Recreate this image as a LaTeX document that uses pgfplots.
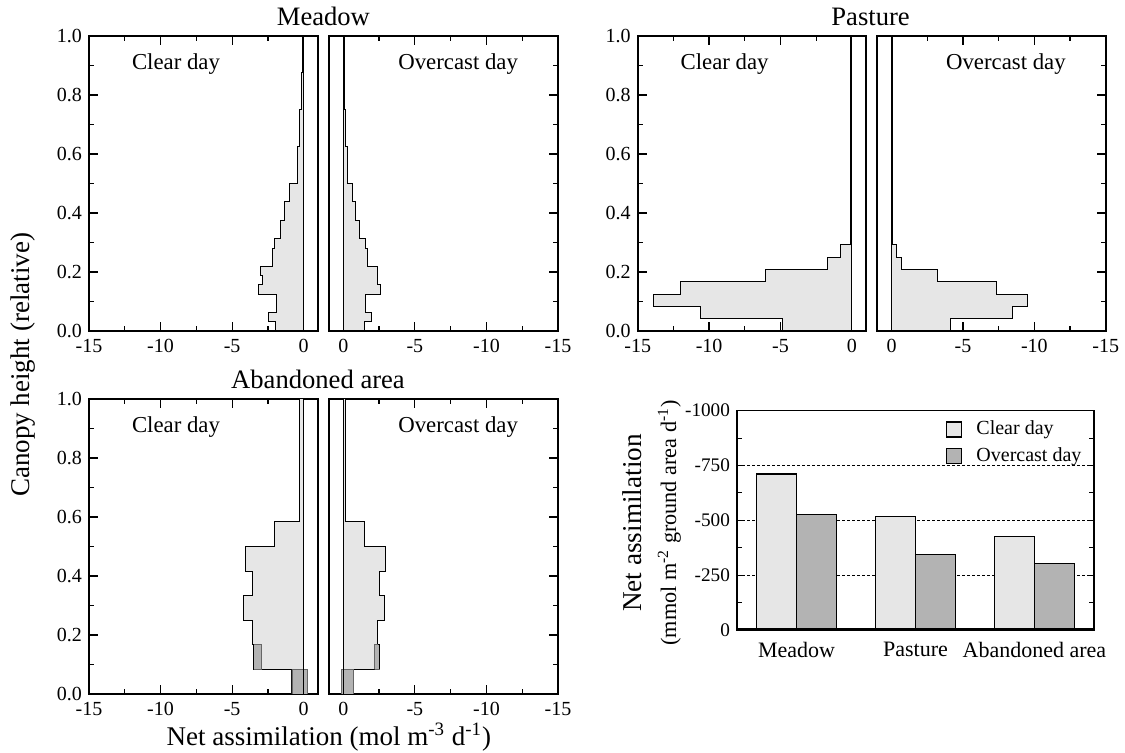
\documentclass[border=0pt]{standalone}
\usepackage{pgfplots}
\pgfplotsset{compat=1.18}
\usepackage{fontspec}
\setmainfont{Liberation Serif}
\definecolor{lightg}{HTML}{E6E6E6}
\definecolor{darkg}{HTML}{B3B3B3}
\tikzset{inlab/.style={font=\fontsize{11.4}{13}\selectfont}}
\pgfplotsset{
 prof/.style={scale only axis, width=114.5pt, height=147.5pt,
  xmin=-15, xmax=1, ymin=0, ymax=1,
  xtick={-15,-10,-5,0}, xticklabels={-15,-10,-5,0}, minor x tick num=1,
  ytick={0,0.2,0.4,0.6,0.8,1}, minor y tick num=1,
  xtick pos=both, xticklabel pos=lower,
  major tick length=4.5pt, minor tick length=2.5pt,
  axis line style={line width=1pt}, tick style={black, line width=0.6pt},
  tick label style={font=\fontsize{10}{12}\selectfont},
  xticklabel style={yshift=-0.8pt},
  anchor=south west},
 clear/.style={prof, ytick pos=left, yticklabel pos=left, yticklabels={0.0,0.2,0.4,0.6,0.8,1.0}},
 over/.style={prof, x dir=reverse, ytick pos=right, yticklabels={}},
 light/.style={fill=lightg, draw=black, line width=0.5pt},
 dark/.style={fill=darkg, draw=black!60, line width=0.4pt},
 zero/.style={black, line width=0.5pt},
}
\begin{document}
\begin{tikzpicture}
\useasboundingbox (0,0) rectangle (562.5pt,376.5pt);
% ---------------- Meadow clear
\begin{axis}[clear, at={(44.5pt,211pt)}]
\addplot[light] coordinates {(0,0) (-2.0,0) (-2.0,0.03125) (-2.44,0.03125) (-2.44,0.0625) (-1.88,0.0625) (-1.88,0.125)
 (-3.18,0.125) (-3.18,0.15625) (-2.86,0.15625) (-2.86,0.1875) (-3.02,0.1875) (-3.02,0.21875) (-2.2,0.21875) (-2.2,0.28125)
 (-2.07,0.28125) (-2.07,0.3125) (-1.62,0.3125) (-1.62,0.375) (-1.32,0.375) (-1.32,0.4375) (-0.96,0.4375) (-0.96,0.5)
 (-0.46,0.5) (-0.46,0.625) (-0.27,0.625) (-0.27,0.75) (-0.16,0.75) (-0.16,0.875) (-0.09,0.875) (-0.09,1) (0,1)};
\addplot[zero] coordinates {(0,0) (0,1)};
\node[inlab, anchor=base west] at (axis description cs:0.157,0.887) {Clear day};
\end{axis}
% ---------------- Meadow overcast
\begin{axis}[over, at={(164.5pt,211pt)}]
\addplot[light] coordinates {(0,0) (-1.47,0) (-1.47,0.03125) (-1.99,0.03125) (-1.99,0.0625) (-1.52,0.0625) (-1.52,0.125)
 (-2.6,0.125) (-2.6,0.15625) (-2.42,0.15625) (-2.42,0.1875) (-2.38,0.1875) (-2.38,0.21875) (-1.7,0.21875) (-1.7,0.28125)
 (-1.56,0.28125) (-1.56,0.3125) (-1.15,0.3125) (-1.15,0.375) (-0.88,0.375) (-0.88,0.4375) (-0.66,0.4375) (-0.66,0.5)
 (-0.28,0.5) (-0.28,0.625) (-0.15,0.625) (-0.15,0.75) (-0.09,0.75) (-0.09,0.875) (-0.05,0.875) (-0.05,1) (0,1)};
\addplot[zero] coordinates {(0,0) (0,1)};
\node[inlab, anchor=base east] at (axis description cs:0.856,0.887) {Overcast day};
\end{axis}
% ---------------- Pasture clear
\begin{axis}[clear, width=114.2pt, at={(318.85pt,211pt)}]
\addplot[light] coordinates {(0,0) (-4.86,0) (-4.86,0.041667) (-10.6,0.041667) (-10.6,0.083333) (-13.9,0.083333) (-13.9,0.125)
 (-12.0,0.125) (-12.0,0.166667) (-6.03,0.166667) (-6.03,0.208333) (-1.73,0.208333) (-1.73,0.25) (-0.82,0.25) (-0.82,0.291667)
 (-0.09,0.291667) (-0.09,1) (0,1)};
\addplot[zero] coordinates {(0,0) (0,1)};
\node[inlab, anchor=base west] at (axis description cs:0.157,0.887) {Clear day};
\end{axis}
% ---------------- Pasture overcast
\begin{axis}[over, width=114.2pt, at={(438.65pt,211pt)}]
\addplot[light] coordinates {(0,0) (-4.11,0) (-4.11,0.041667) (-8.48,0.041667) (-8.48,0.083333) (-9.53,0.083333) (-9.53,0.125)
 (-7.36,0.125) (-7.36,0.166667) (-3.25,0.166667) (-3.25,0.208333) (-0.70,0.208333) (-0.70,0.25) (-0.33,0.25) (-0.33,0.291667)
 (-0.03,0.291667) (-0.03,1) (0,1)};
\addplot[zero] coordinates {(0,0) (0,1)};
\node[inlab, anchor=base east] at (axis description cs:0.856,0.887) {Overcast day};
\end{axis}
% ---------------- Abandoned clear
\begin{axis}[clear, at={(44.5pt,29.5pt)}]
\addplot[light] coordinates {(0,0) (-0.82,0) (-0.82,0.083333) (-3.48,0.083333) (-3.48,0.166667) (-3.6,0.166667) (-3.6,0.25)
 (-4.18,0.25) (-4.18,0.333333) (-3.6,0.333333) (-3.6,0.416667) (-4.04,0.416667) (-4.04,0.5) (-2.06,0.5) (-2.06,0.583333)
 (-0.30,0.583333) (-0.30,1) (0,1)};
\addplot[dark] coordinates {(-0.82,0) (0.26,0) (0.26,0.083333) (-0.82,0.083333) (-0.82,0)};
\addplot[dark] coordinates {(-3.48,0.083333) (-2.94,0.083333) (-2.94,0.166667) (-3.48,0.166667) (-3.48,0.083333)};
\addplot[black, line width=0.5pt] coordinates {(-3.48,0.083333) (-3.48,0.166667) (-3.6,0.166667)};
\addplot[zero] coordinates {(0,0) (0,1)};
\node[inlab, anchor=base west] at (axis description cs:0.157,0.887) {Clear day};
\end{axis}
% ---------------- Abandoned overcast
\begin{axis}[over, at={(164.5pt,29.5pt)}]
\addplot[light] coordinates {(0,0) (-0.70,0) (-0.70,0.083333) (-2.51,0.083333) (-2.51,0.166667) (-2.4,0.166667) (-2.4,0.25)
 (-2.91,0.25) (-2.91,0.333333) (-2.53,0.333333) (-2.53,0.416667) (-2.93,0.416667) (-2.93,0.5) (-1.51,0.5) (-1.51,0.583333)
 (-0.16,0.583333) (-0.16,1) (0,1)};
\addplot[dark] coordinates {(0.16,0) (-0.70,0) (-0.70,0.083333) (0.16,0.083333) (0.16,0)};
\addplot[dark] coordinates {(-2.19,0.083333) (-2.51,0.083333) (-2.51,0.166667) (-2.19,0.166667) (-2.19,0.083333)};
\addplot[black, line width=0.5pt] coordinates {(-2.51,0.083333) (-2.51,0.166667) (-2.4,0.166667)};
\addplot[zero] coordinates {(0,0) (0,1)};
\node[inlab, anchor=base east] at (axis description cs:0.856,0.887) {Overcast day};
\end{axis}
% ---------------- Bar chart
\begin{axis}[at={(368.5pt,61.5pt)}, anchor=south west, scale only axis, width=178.5pt, height=109.65pt,
 xmin=-0.5, xmax=2.5, ymin=-1000, ymax=0, y dir=reverse,
 ybar=0pt, bar width=20pt,
 xtick={0,1,2}, xticklabels={Meadow,Pasture,Abandoned area}, xtick style={draw=none},
 ytick={-1000,-750,-500,-250,0}, yticklabels={-1000,-750,-500,-250,0}, minor y tick num=1,
 ytick pos=both, yticklabel pos=left,
 ymajorgrids, grid style={black, line width=0.4pt, dash pattern=on 1.5pt off 1pt},
 major tick length=2.5pt, minor tick length=2.5pt,
 axis line style={line width=0.8pt}, tick style={black, line width=0.5pt},
 x tick label style={font=\fontsize{11}{13}\selectfont},
 y tick label style={font=\fontsize{9.6}{11}\selectfont},
 legend style={at={(axis description cs:0.585,0.973)}, anchor=north west, draw=none, fill=none,
   font=\fontsize{10}{12}\selectfont, inner sep=0pt, row sep=0.8pt},
 legend cell align=left]
\addplot[fill=lightg, draw=black, line width=0.6pt,
  legend image code/.code={\draw[fill=lightg, draw=black, line width=0.6pt] (0pt,-3.75pt) rectangle (7.5pt,3.75pt); \path[draw=none, fill=none] (7.5pt,0pt) -- (12.8pt,0pt);}]
  coordinates {(0,-711) (1,-518) (2,-427)};
\addlegendentry{Clear day}
\addplot[fill=darkg, draw=black, line width=0.6pt,
  legend image code/.code={\draw[fill=darkg, draw=black, line width=0.6pt] (0pt,-3.75pt) rectangle (7.5pt,3.75pt); \path[draw=none, fill=none] (7.5pt,0pt) -- (12.8pt,0pt);}]
  coordinates {(0,-528) (1,-346) (2,-305)};
\addlegendentry{Overcast day}
\draw[line width=1.6pt] (axis description cs:0,0) -- (axis description cs:1,0);
\end{axis}
% ---------------- Texts
\node[anchor=base, font=\fontsize{13.3}{15}\selectfont] at (161.7pt,363.5pt) {Meadow};
\node[anchor=base, font=\fontsize{13.3}{15}\selectfont] at (435.3pt,363.5pt) {Pasture};
\node[anchor=base, font=\fontsize{13.3}{15}\selectfont] at (159pt,182.35pt) {Abandoned area};
\node[anchor=base, rotate=90, font=\fontsize{13.5}{15}\selectfont] at (15pt,194pt) {Canopy height (relative)};
\node[anchor=base, font=\fontsize{13.5}{15}\selectfont] at (164.4pt,3.5pt) {Net assimilation (mol m\textsuperscript{-3} d\textsuperscript{-1})};
\node[anchor=base, rotate=90, font=\fontsize{13.6}{15}\selectfont] at (320.85pt,115pt) {Net assimilation};
\node[anchor=base, rotate=90, font=\fontsize{11.1}{13}\selectfont] at (338pt,115pt) {(mmol m\textsuperscript{-2} ground area d\textsuperscript{-1})};
\end{tikzpicture}
\end{document}
